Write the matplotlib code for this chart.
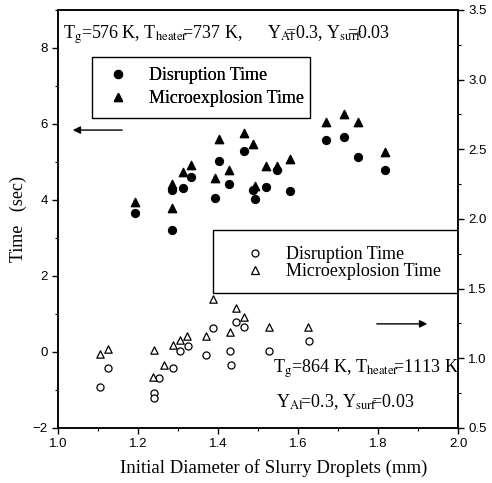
import numpy as np
import matplotlib
matplotlib.use('Agg')
import matplotlib.pyplot as plt
from matplotlib.lines import Line2D
from matplotlib.patches import Rectangle
from matplotlib.ticker import MultipleLocator

plt.rcParams['font.family'] = 'Liberation Serif'
plt.rcParams['mathtext.fontset'] = 'stix'

# case 1 (left axis): Tg=576 K, Theater=737 K
d1_dia = [1.192, 1.284, 1.286, 1.312, 1.332, 1.393, 1.403, 1.427, 1.466,
          1.488, 1.493, 1.520, 1.547, 1.580, 1.670, 1.716, 1.751, 1.818]
d1_time = [3.67, 3.21, 4.26, 4.32, 4.61, 4.04, 5.03, 4.41, 5.30,
           4.26, 4.02, 4.33, 4.79, 4.24, 5.58, 5.65, 5.14, 4.79]
m1_dia = [1.192, 1.284, 1.284, 1.312, 1.332, 1.393, 1.403, 1.427, 1.466,
          1.487, 1.493, 1.520, 1.547, 1.580, 1.670, 1.716, 1.751, 1.818]
m1_time = [3.96, 3.80, 4.41, 4.74, 4.92, 4.59, 5.61, 4.78, 5.77,
           5.47, 4.36, 4.89, 4.89, 5.07, 6.06, 6.26, 6.06, 5.27]

# case 2 (right axis): Tg=864 K, Theater=1113 K
d2_dia = [1.105, 1.124, 1.241, 1.241, 1.253, 1.287, 1.305, 1.324, 1.370,
          1.387, 1.430, 1.432, 1.445, 1.466, 1.528, 1.628]
d2_time = [0.792, 0.929, 0.749, 0.713, 0.857, 0.929, 1.055, 1.089, 1.024,
           1.220, 1.053, 0.952, 1.261, 1.223, 1.053, 1.125]
m2_dia = [1.105, 1.124, 1.241, 1.237, 1.265, 1.287, 1.305, 1.322, 1.370,
          1.387, 1.430, 1.445, 1.466, 1.528, 1.626]
m2_time = [1.029, 1.065, 1.060, 0.864, 0.950, 1.096, 1.132, 1.163, 1.160,
           1.426, 1.191, 1.359, 1.295, 1.227, 1.223]

fig = plt.figure(figsize=(4.92, 4.83), dpi=100)
ax = fig.add_axes([0.1179, 0.1139, 0.813, 0.8654])
ax2 = ax.twinx()

ax.scatter(d1_dia, d1_time, s=32, marker='o', color='black', zorder=3)
ax.scatter(m1_dia, m1_time, s=36, marker='^', color='black', zorder=3)
ax2.scatter(d2_dia, d2_time, s=26, marker='o', facecolor='white',
            edgecolor='black', linewidths=0.9, zorder=3)
ax2.scatter(m2_dia, m2_time, s=28, marker='^', facecolor='white',
            edgecolor='black', linewidths=0.9, zorder=3)

ax.set_xlim(1.0, 2.0)
ax.set_ylim(-2, 9)
ax2.set_ylim(0.5, 3.5)
ax.xaxis.set_major_locator(MultipleLocator(0.2))
ax.xaxis.set_minor_locator(MultipleLocator(0.1))
ax.yaxis.set_major_locator(MultipleLocator(2))
ax.yaxis.set_minor_locator(MultipleLocator(1))
ax2.yaxis.set_major_locator(MultipleLocator(0.5))
ax2.yaxis.set_minor_locator(MultipleLocator(0.25))
ax.set_yticks([-2, 0, 2, 4, 6, 8])

for a in (ax, ax2):
    a.tick_params(which='major', length=4, width=1, direction='out', labelsize=9.5)
    a.tick_params(which='minor', length=2, width=0.8, direction='out')
    for lab in a.get_xticklabels() + a.get_yticklabels():
        lab.set_family('Liberation Sans')
    for sp in a.spines.values():
        sp.set_linewidth(1.1)

ax.set_xlabel('Initial Diameter of Slurry Droplets (mm)', fontsize=13.5)
ax.xaxis.set_label_coords(0.54, -0.075)
ax.set_ylabel('Time   (sec)', fontsize=13)

ax.text(1.0125, 8.26, r'T$_{\rm g}$=576 K, T$_{\rm heater}\!\!$=737 K,',
        fontsize=13, va='baseline')
ax.text(1.5225, 8.26, r'Y$_{\rm Al}\!\!\!\!$=0.3, Y$_{\rm surf}\!\!\!\!\!\!$=0.03',
        fontsize=13, va='baseline')
ax.text(1.537, -0.553, r'T$_{\rm g}$=864 K, T$_{\rm heater}\!\!$=1113 K',
        fontsize=13, va='baseline')
ax.text(1.545, -1.45, r'Y$_{\rm Al}\!$=0.3, Y$_{\rm surf}\!\!$=0.03',
        fontsize=13, va='baseline')

# arrows pointing at the axis each case belongs to
ax.annotate('', xy=(1.03, 5.84), xytext=(1.1675, 5.84),
            arrowprops=dict(arrowstyle='-|>', color='black', lw=1, mutation_scale=11))
ax.annotate('', xy=(1.93, 0.74), xytext=(1.79, 0.74),
            arrowprops=dict(arrowstyle='-|>', color='black', lw=1, mutation_scale=11))

# legend boxes
ax.add_patch(Rectangle((1.085, 6.158), 0.545, 1.605, fill=False,
                       edgecolor='black', lw=1, zorder=4))
ax.add_patch(Rectangle((1.3875, 1.553), 0.6125, 1.657, fill=False,
                       edgecolor='black', lw=1, zorder=4))

h1 = [Line2D([], [], ls='none', marker='o', ms=5.7, color='black'),
      Line2D([], [], ls='none', marker='^', ms=6.2, color='black')]
h2 = [Line2D([], [], ls='none', marker='o', ms=5, mfc='white', mec='black', mew=0.9),
      Line2D([], [], ls='none', marker='^', ms=5.5, mfc='white', mec='black', mew=0.9)]
names = ['Disruption Time', 'Microexplosion Time']

leg1 = ax.legend(h1, names, loc='center left', bbox_to_anchor=(1.1275, 6.97),
                 bbox_transform=ax.transData, frameon=False, fontsize=13,
                 borderpad=0, borderaxespad=0, handlelength=1.0,
                 handletextpad=1.2, labelspacing=0.3)
ax.add_artist(leg1)
ax2.legend(h2, names, loc='center left', bbox_to_anchor=(1.47, 2.34),
           bbox_transform=ax.transData, frameon=False, fontsize=13,
           borderpad=0, borderaxespad=0, handlelength=1.0,
           handletextpad=1.2, labelspacing=0.0)

fig.savefig('out.png', dpi=100)
